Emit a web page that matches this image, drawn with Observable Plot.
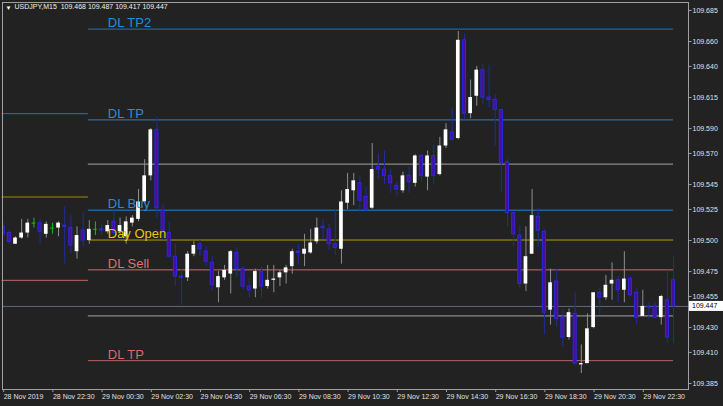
<!DOCTYPE html>
<html><head><meta charset="utf-8">
<script src="https://cdn.jsdelivr.net/npm/d3@7"></script>
<script src="https://cdn.jsdelivr.net/npm/@observablehq/plot@0.6"></script>
<style>
html,body{margin:0;padding:0;background:#222222;}
#chart{width:723px;height:406px;overflow:hidden;}
</style></head><body><div id="chart"></div>
<script>
const symbol = "USDJPY,M15";
// 15-minute bars from 28 Nov 2019 20:30 to 29 Nov 2019 23:45
const opens = [109.511,109.506,109.497,109.502,109.506,109.514,109.514,109.505,109.510,109.510,
109.512,109.510,109.491,109.508,109.500,109.509,109.509,109.507,109.515,109.507,
109.503,109.514,109.517,109.531,109.552,109.589,109.524,109.506,109.487,109.471,
109.470,109.489,109.497,109.491,109.482,109.462,109.470,109.473,109.490,109.477,
109.463,109.461,109.475,109.463,109.468,109.470,109.474,109.479,109.491,109.489,
109.490,109.499,109.511,109.509,109.497,109.493,109.530,109.540,109.546,109.535,
109.526,109.559,109.557,109.552,109.544,109.540,109.552,109.546,109.568,109.551,
109.568,109.553,109.576,109.587,109.582,109.661,109.602,109.616,109.637,109.615,
109.613,109.605,109.563,109.522,109.504,109.465,109.489,109.519,109.507,109.444,
109.467,109.438,109.422,109.441,109.400,109.401,109.430,109.458,109.454,109.465,
109.468,109.460,109.469,109.458,109.439,109.447,109.447,109.438,109.452,109.468];
const highs = [109.515,109.508,109.503,109.517,109.517,109.518,109.517,109.515,109.514,109.515,
109.527,109.520,109.511,109.522,109.516,109.515,109.513,109.516,109.524,109.518,
109.519,109.520,109.541,109.565,109.590,109.599,109.529,109.515,109.497,109.476,
109.491,109.499,109.500,109.495,109.487,109.475,109.480,109.492,109.494,109.479,
109.469,109.477,109.479,109.480,109.480,109.476,109.480,109.493,109.497,109.505,
109.509,109.518,109.517,109.513,109.525,109.540,109.554,109.554,109.552,109.543,
109.578,109.570,109.572,109.557,109.547,109.555,109.559,109.569,109.569,109.572,
109.577,109.583,109.594,109.606,109.668,109.666,109.629,109.640,109.642,109.641,
109.617,109.605,109.565,109.522,109.512,109.511,109.541,109.526,109.509,109.477,
109.477,109.444,109.445,109.458,109.416,109.441,109.458,109.462,109.472,109.482,
109.471,109.491,109.471,109.461,109.460,109.450,109.450,109.456,109.476,109.487];
const lows = [109.504,109.497,109.497,109.501,109.502,109.510,109.497,109.502,109.505,109.503,
109.481,109.489,109.485,109.495,109.497,109.504,109.504,109.505,109.503,109.505,
109.497,109.511,109.515,109.530,109.548,109.518,109.500,109.486,109.463,109.448,
109.467,109.487,109.487,109.479,109.459,109.450,109.468,109.457,109.470,109.460,
109.454,109.454,109.454,109.461,109.458,109.463,109.465,109.473,109.480,109.479,
109.489,109.497,109.501,109.492,109.488,109.481,109.525,109.528,109.523,109.523,
109.525,109.549,109.545,109.538,109.536,109.538,109.538,109.543,109.547,109.540,
109.545,109.552,109.574,109.580,109.581,109.597,109.598,109.608,109.609,109.607,
109.576,109.538,109.511,109.495,109.461,109.459,109.489,109.495,109.424,109.432,
109.430,109.414,109.420,109.401,109.393,109.401,109.429,109.440,109.452,109.452,
109.450,109.450,109.455,109.432,109.439,109.437,109.437,109.432,109.417,109.417];
const closes = [109.505,109.499,109.502,109.506,109.514,109.514,109.507,109.513,109.510,109.514,
109.511,109.496,109.504,109.500,109.509,109.509,109.508,109.512,109.506,109.512,
109.515,109.518,109.531,109.552,109.589,109.526,109.508,109.487,109.471,109.470,
109.489,109.496,109.493,109.483,109.464,109.471,109.476,109.491,109.477,109.463,
109.460,109.475,109.463,109.468,109.469,109.474,109.478,109.491,109.490,109.493,
109.498,109.510,109.510,109.497,109.494,109.531,109.541,109.548,109.532,109.525,
109.557,109.557,109.552,109.546,109.541,109.552,109.547,109.568,109.552,109.568,
109.552,109.576,109.589,109.581,109.661,109.602,109.615,109.637,109.615,109.613,
109.605,109.562,109.522,109.505,109.465,109.487,109.520,109.508,109.442,109.466,
109.437,109.422,109.442,109.401,109.401,109.429,109.458,109.454,109.464,109.468,
109.460,109.469,109.456,109.438,109.447,109.446,109.438,109.455,109.422,109.447];

const xTickBars = [0,8,16,24,32,40,48,56,64,72,80,88,96,104];
const xTickLabels = ["28 Nov 2019","28 Nov 22:30","29 Nov 00:30","29 Nov 02:30","29 Nov 04:30",
  "29 Nov 06:30","29 Nov 08:30","29 Nov 10:30","29 Nov 12:30","29 Nov 14:30","29 Nov 16:30",
  "29 Nov 18:30","29 Nov 20:30","29 Nov 22:30"];
const yTicks = [109.685,109.660,109.640,109.615,109.590,109.570,109.545,109.525,
  109.500,109.475,109.455,109.430,109.410,109.385];

const levelNames  = ["DL TP2","DL TP","","DL Buy","Day Open","DL Sell","","DL TP"];
const levelKinds  = ["tp2","tpUp","mid","buy","open","sell","mid","tpDown"];
const levelValues = [109.670,109.597,109.5614,109.5244,109.5004,109.4764,109.4394,109.4034];
const prevKinds   = ["buy","open","sell"];
const prevValues  = [109.602,109.535,109.468];
const dayStartBar = 14;   // 29 Nov 00:00
const lastBar = opens.length - 1;

// ---- styles ----
const lineColor = {tp2:"#1a78b8", tpUp:"#2a80c8", mid:"#7c7c7c", buy:"#2a80c8",
  open:"#b49c10", sell:"#c27070", tpDown:"#b86464"};
const textColor = {tp2:"#1f90d8", tpUp:"#2f88dc", buy:"#2f88dc", open:"#e8c800",
  sell:"#e07070", tpDown:"#d86a6a"};
const prevColor = {buy:"#2670b8", open:"#a08c00", sell:"#c06a6a"};

const bars = opens.map((o,i)=>({i, o, h:highs[i], l:lows[i], c:closes[i]}));
const bulls = bars.filter(d=>d.c>d.o);
const bears = bars.filter(d=>d.c<d.o);
const dojis = bars.filter(d=>d.c===d.o);
const levels = levelValues.map((v,k)=>({v, name:levelNames[k], kind:levelKinds[k]}));
const prev = prevValues.map((v,k)=>({v, kind:prevKinds[k]}));
const last = bars[lastBar];
const title = `${symbol}  ${last.o.toFixed(3)} ${last.h.toFixed(3)} ${last.l.toFixed(3)} ${last.c.toFixed(3)}`;

const hw = 0.3;
const chart = Plot.plot({
  width: 723, height: 406,
  marginLeft: 2, marginRight: 35, marginTop: 2, marginBottom: 17,
  x: {domain: [-0.114, 111.43]},
  y: {domain: [109.3802, 109.6914]},
  style: {background:"#222222", color:"#e0e0e0", fontFamily:"'Liberation Sans', Arial, sans-serif", fontSize:"7px"},
  marks: [
    Plot.ruleY(prev, {y:"v", x1:()=>-0.2, x2:()=>dayStartBar-0.15, stroke:d=>prevColor[d.kind], strokeWidth:1}),
    ...levelKinds.map(k => Plot.ruleY(levels.filter(d=>d.kind===k), {y:"v", x1:()=>dayStartBar-0.15, x2:()=>lastBar, stroke:lineColor[k], strokeWidth:1})),
    Plot.ruleY([last.c], {stroke:"#5a6c7e", strokeWidth:1}),
    Plot.ruleX(bears, {x:"i", y1:"l", y2:"h", stroke:"#1e2e9a", strokeWidth:1, clip:true}),
    Plot.ruleX(bulls, {x:"i", y1:"l", y2:"h", stroke:"#8e8e8e", strokeWidth:1, clip:true}),
    Plot.ruleX(dojis, {x:"i", y1:"l", y2:"h", stroke:"#10c010", strokeWidth:1, clip:true}),
    Plot.ruleY(dojis, {y:"c", x1:d=>d.i-hw, x2:d=>d.i+hw, stroke:"#10c010", strokeWidth:1, clip:true}),
    Plot.rect(bears, {x1:d=>d.i-0.25, x2:d=>d.i+0.25, y1:"o", y2:"c", fill:"#4b0c9c", stroke:"#2a2ae0", strokeWidth:1, clip:true}),
    Plot.rect(bulls, {x1:d=>d.i-hw, x2:d=>d.i+hw, y1:"o", y2:"c", fill:"#ffffff", clip:true}),
    Plot.text(levels.filter(d=>d.name), {x:()=>17, y:"v", text:"name", fill:d=>textColor[d.kind], fontSize:13, textAnchor:"start", lineAnchor:"bottom", dy:-2}),
    Plot.frame({stroke:"#a0a0a0"}),
    Plot.text(["\u25BC"], {frameAnchor:"top-left", dx:3, dy:3, lineAnchor:"top", fontSize:6, fill:"#ffffff"}),
    Plot.text([title], {frameAnchor:"top-left", dx:12, dy:2, lineAnchor:"top", textAnchor:"start", fontSize:7, fill:"#f0f0f0"}),
    Plot.axisX(xTickBars, {anchor:"bottom", tickSize:3, tickPadding:1.5, textAnchor:"start", dx:0.5,
      tickFormat:d=>xTickLabels[xTickBars.indexOf(d)], stroke:"#a0a0a0", fill:"#e0e0e0", fontSize:7, label:null}),
    Plot.axisY(yTicks, {anchor:"right", tickSize:2.5, tickPadding:1.5, tickFormat:d=>d.toFixed(3),
      stroke:"#a0a0a0", fill:"#e0e0e0", fontSize:7, label:null})
  ]
});
document.getElementById("chart").appendChild(chart);

// current price tag on the right axis
const ns = "http://www.w3.org/2000/svg";
const py = chart.scale("y").apply(last.c);
const g = document.createElementNS(ns, "g");
const r = document.createElementNS(ns, "rect");
r.setAttribute("x", 689); r.setAttribute("y", py - 5); r.setAttribute("width", 34); r.setAttribute("height", 10);
r.setAttribute("fill", "#ffffff");
const t = document.createElementNS(ns, "text");
t.setAttribute("x", 692); t.setAttribute("y", py); t.setAttribute("dy", "0.35em");
t.setAttribute("text-anchor", "start");
t.setAttribute("fill", "#000000"); t.setAttribute("font-size", "7px");
t.textContent = last.c.toFixed(3);
g.appendChild(r); g.appendChild(t);
chart.appendChild(g);
</script></body></html>
